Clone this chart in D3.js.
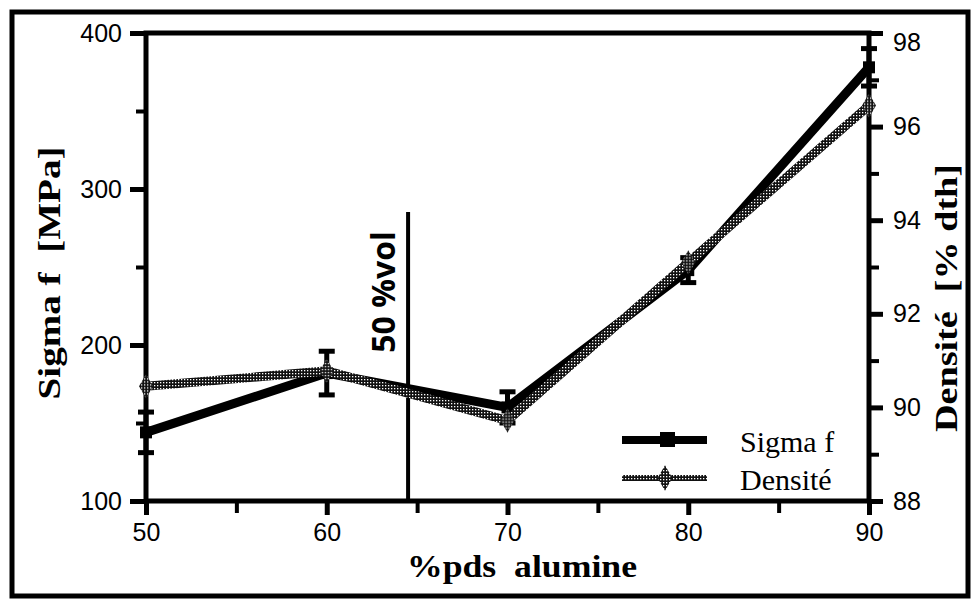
<!DOCTYPE html>
<html>
<head>
<meta charset="utf-8">
<script src="https://cdn.jsdelivr.net/npm/d3@7"></script>
<style>
  body { margin: 0; background: #fff; }
</style>
</head>
<body>
<script>
/* data */
var alumine = [50, 60, 70, 80, 90];           // %pds alumine
var sigma = [144, 182, 160, 248, 378];        // Sigma f [MPa]
var sigmaErr = [13, 14, 10, 8, 12];
var densite = [90.45, 90.78, 89.72, 93.1, 96.45]; // Densité [% dth]
var volLine = 64.5;                            // 50 %vol boundary
var xTicks = [50, 60, 70, 80, 90];
var yLeftTicks = [100, 200, 300, 400];
var yRightTicks = [88, 90, 92, 94, 96, 98];

var width = 974, height = 601;
var plot = {left: 146, right: 869, top: 33, bottom: 501};
var sans = "'Liberation Sans', Arial, sans-serif";
var serif = "'Liberation Serif', 'DejaVu Serif', serif";

var svg = d3.select("body").append("svg")
    .attr("width", width)
    .attr("height", height);

/* hatched pattern for the density line */
var pat = svg.append("defs").append("pattern")
    .attr("id", "hatch")
    .attr("patternUnits", "userSpaceOnUse")
    .attr("width", 3).attr("height", 3);
pat.append("rect").attr("width", 3).attr("height", 3).attr("fill", "#111");
pat.append("rect").attr("x", 1).attr("y", 1).attr("width", 1.3).attr("height", 1.3).attr("fill", "#fff");

// outer frame
svg.append("rect")
    .attr("x", 12).attr("y", 12)
    .attr("width", 956).attr("height", 584)
    .attr("fill", "none").attr("stroke", "#000").attr("stroke-width", 5);

var x = d3.scaleLinear().domain([50, 90]).range([plot.left, plot.right]);
var yL = d3.scaleLinear().domain([100, 400]).range([plot.bottom, plot.top]);
var yR = d3.scaleLinear().domain([88, 98]).range([plot.bottom, plot.top]);

function noDomain(g) { g.select(".domain").remove(); }

/* minor ticks first */
svg.append("g")
    .attr("transform", "translate(0," + plot.bottom + ")")
    .call(d3.axisBottom(x).tickValues([55, 65, 75, 85]).tickSize(12).tickFormat(""))
    .call(noDomain)
    .selectAll("line").attr("stroke-width", 4);
svg.append("g")
    .attr("transform", "translate(" + plot.left + ",0)")
    .call(d3.axisLeft(yL).tickValues([150, 250, 350]).tickSize(10).tickFormat(""))
    .call(noDomain)
    .selectAll("line").attr("stroke-width", 4);
svg.append("g")
    .attr("transform", "translate(" + plot.right + ",0)")
    .call(d3.axisRight(yR).tickValues([89, 91, 93, 95, 97]).tickSize(10).tickFormat(""))
    .call(noDomain)
    .selectAll("line").attr("stroke-width", 4);

/* major axes */
var gx = svg.append("g")
    .attr("transform", "translate(0," + plot.bottom + ")")
    .call(d3.axisBottom(x).tickValues(xTicks).tickSize(14).tickPadding(8));
var gyl = svg.append("g")
    .attr("transform", "translate(" + plot.left + ",0)")
    .call(d3.axisLeft(yL).tickValues(yLeftTicks).tickSize(16).tickPadding(8));
var gyr = svg.append("g")
    .attr("transform", "translate(" + plot.right + ",0)")
    .call(d3.axisRight(yR).tickValues(yRightTicks).tickSize(14).tickPadding(10));

[gx, gyl, gyr].forEach(function(g) {
    g.call(noDomain);
    g.attr("font-family", sans).attr("font-size", 25);
    g.selectAll(".tick line").attr("stroke-width", 5);
    g.selectAll(".tick text").attr("fill", "#000");
});
gyr.select(".tick:last-of-type text").attr("dy", "0.7em");

// plot box
svg.append("rect")
    .attr("x", plot.left).attr("y", plot.top)
    .attr("width", plot.right - plot.left).attr("height", plot.bottom - plot.top)
    .attr("fill", "none").attr("stroke", "#000").attr("stroke-width", 5);

// 50 %vol line
svg.append("line")
    .attr("x1", x(volLine)).attr("x2", x(volLine))
    .attr("y1", 212).attr("y2", plot.bottom)
    .attr("stroke", "#000").attr("stroke-width", 4);
svg.append("text")
    .attr("transform", "translate(" + (x(volLine) - 13) + ",292) rotate(-90)")
    .attr("text-anchor", "middle")
    .attr("font-family", "'Open Sans', 'DejaVu Sans', sans-serif")
    .attr("font-weight", "bold")
    .attr("font-size", 32)
    .text("50 %vol");

var sigmaData = alumine.map(function(a, i) { return {x: a, y: sigma[i], e: sigmaErr[i]}; });
var densData = alumine.map(function(a, i) { return {x: a, y: densite[i]}; });

// sigma line
svg.append("path")
    .datum(sigmaData)
    .attr("fill", "none").attr("stroke", "#000").attr("stroke-width", 9)
    .attr("d", d3.line().x(function(d) { return x(d.x); }).y(function(d) { return yL(d.y); }));

// error bars
var eb = svg.append("g").selectAll("g").data(sigmaData).enter().append("g");
eb.append("line")
    .attr("x1", function(d) { return x(d.x); }).attr("x2", function(d) { return x(d.x); })
    .attr("y1", function(d) { return yL(d.y + d.e); }).attr("y2", function(d) { return yL(d.y - d.e); })
    .attr("stroke", "#000").attr("stroke-width", 5);
eb.selectAll("line.cap").data(function(d) { return [{x: d.x, y: d.y + d.e}, {x: d.x, y: d.y - d.e}]; })
    .enter().append("line").attr("class", "cap")
    .attr("x1", function(d) { return x(d.x) - 8; }).attr("x2", function(d) { return x(d.x) + 8; })
    .attr("y1", function(d) { return yL(d.y); }).attr("y2", function(d) { return yL(d.y); })
    .attr("stroke", "#000").attr("stroke-width", 5);
svg.append("g").selectAll("rect").data(sigmaData).enter().append("rect")
    .attr("x", function(d) { return x(d.x) - 6; }).attr("y", function(d) { return yL(d.y) - 6; })
    .attr("width", 12).attr("height", 12).attr("fill", "#000");

// density line
svg.append("path")
    .datum(densData)
    .attr("fill", "none").attr("stroke", "url(#hatch)").attr("stroke-width", 9)
    .attr("d", d3.line().x(function(d) { return x(d.x); }).y(function(d) { return yR(d.y); }));
svg.append("g").selectAll("path").data(densData).enter().append("path")
    .attr("transform", function(d) { return "translate(" + x(d.x) + "," + yR(d.y) + ")"; })
    .attr("d", d3.symbol().type(d3.symbolDiamond).size(170))
    .attr("fill", "url(#hatch)");

// axis titles
svg.append("text")
    .attr("transform", "translate(60,273) rotate(-90)")
    .attr("text-anchor", "middle")
    .attr("font-family", serif).attr("font-weight", "bold").attr("font-size", 32)
    .attr("textLength", 253).attr("lengthAdjust", "spacingAndGlyphs")
    .attr("xml:space", "preserve")
    .text("Sigma f  [MPa]");
svg.append("text")
    .attr("transform", "translate(957,298) rotate(-90)")
    .attr("text-anchor", "middle")
    .attr("font-family", serif).attr("font-weight", "bold").attr("font-size", 32)
    .attr("textLength", 268).attr("lengthAdjust", "spacingAndGlyphs")
    .attr("xml:space", "preserve")
    .text("Densité  [% dth]");
svg.append("text")
    .attr("x", 522).attr("y", 577)
    .attr("text-anchor", "middle")
    .attr("font-family", serif).attr("font-weight", "bold").attr("font-size", 32)
    .attr("textLength", 230).attr("lengthAdjust", "spacingAndGlyphs")
    .attr("xml:space", "preserve")
    .text("%pds  alumine");

// legend
var legend = [{name: "Sigma f", y: 440}, {name: "Densité", y: 478}];
legend.forEach(function(l, i) {
    svg.append("line")
        .attr("x1", 622).attr("x2", 707).attr("y1", l.y).attr("y2", l.y)
        .attr("stroke", i == 0 ? "#000" : "url(#hatch)")
        .attr("stroke-width", i == 0 ? 8 : 6);
    if (i == 0) {
        svg.append("rect").attr("x", 660).attr("y", l.y - 8).attr("width", 15).attr("height", 15).attr("fill", "#000");
    } else {
        svg.append("path")
            .attr("transform", "translate(665," + l.y + ")")
            .attr("d", d3.symbol().type(d3.symbolDiamond).size(190))
            .attr("fill", "url(#hatch)");
    }
    svg.append("text")
        .attr("x", 740).attr("y", l.y + 12)
        .attr("font-family", serif).attr("font-size", 30)
        .text(l.name);
});
</script>
</body>
</html>
